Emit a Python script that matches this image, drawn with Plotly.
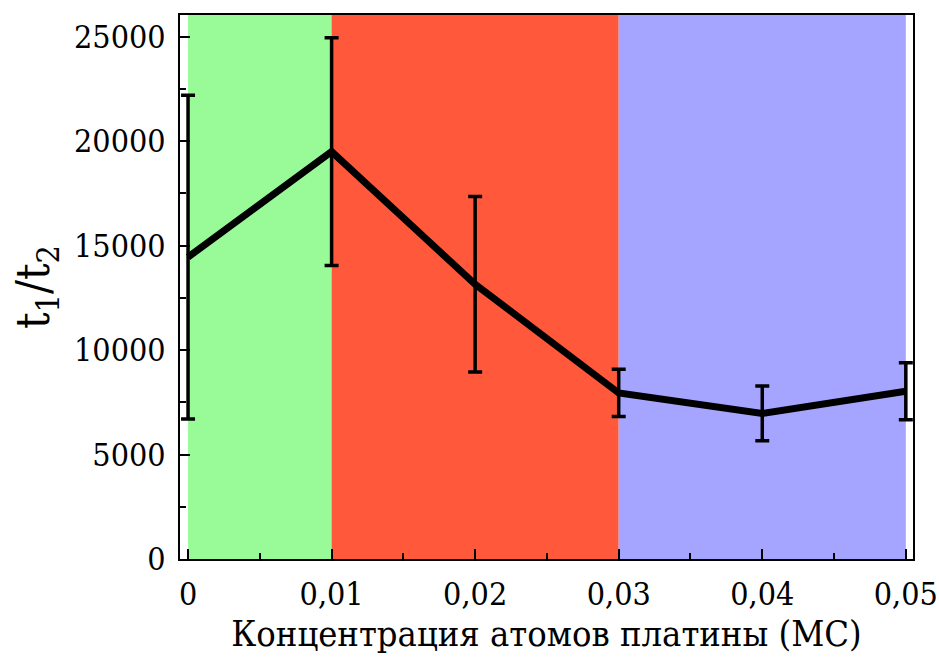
import plotly.graph_objects as go

# Data
conc = [0.0, 0.01, 0.02, 0.03, 0.04, 0.05]
ratio = [14450, 19500, 13150, 7950, 6970, 8030]
err = [7750, 5450, 4200, 1130, 1310, 1360]

x_ticks = [0, 0.01, 0.02, 0.03, 0.04, 0.05]
x_labels = ["0", "0,01", "0,02", "0,03", "0,04", "0,05"]
y_ticks = [0, 5000, 10000, 15000, 20000, 25000]
y_labels = ["0", "5000", "10000", "15000", "20000", "25000"]

regions = [(0.0, 0.01, "#98FB98"), (0.01, 0.03, "#FF583B"), (0.03, 0.05, "#A5A5FF")]

font_family = "DejaVu Serif Condensed, DejaVu Serif"

fig = go.Figure()
fig.add_trace(go.Scatter(
    x=conc, y=ratio, mode="lines",
    line=dict(color="black", width=7),
    error_y=dict(type="data", array=err, visible=True, color="black",
                 thickness=3.5, width=7),
    showlegend=False,
))

shapes = []
for x0, x1, c in regions:
    shapes.append(dict(type="rect", xref="x", yref="y domain", x0=x0, x1=x1,
                       y0=0, y1=1, fillcolor=c, line=dict(width=0), layer="below"))

fig.update_layout(
    width=939, height=657,
    margin=dict(l=180, r=26, t=15, b=98),
    paper_bgcolor="white", plot_bgcolor="white",
    shapes=shapes,
    font=dict(family=font_family, color="black", size=32),
    xaxis=dict(
        range=[-0.00056, 0.0505], tickvals=x_ticks, ticktext=x_labels,
        ticks="inside", ticklen=10, tickwidth=2, tickcolor="black",
        showline=True, linecolor="black", linewidth=2, mirror=True,
        showgrid=False, zeroline=False, automargin=False,
        tickfont=dict(size=32, family=font_family),
        minor=dict(dtick=0.005, tick0=0, ticks="inside", ticklen=6, tickwidth=2, tickcolor="black"),
        title=dict(text="Концентрация атомов платины (МС)", font=dict(size=36, family=font_family), standoff=3),
        ticklabelstandoff=6,
    ),
    yaxis=dict(
        range=[0, 26040], tickvals=y_ticks, ticktext=y_labels,
        ticks="inside", ticklen=10, tickwidth=2, tickcolor="black",
        showline=True, linecolor="black", linewidth=2, mirror=True,
        showgrid=False, zeroline=False, automargin=False,
        tickfont=dict(size=32, family=font_family),
        minor=dict(dtick=2500, tick0=0, ticks="inside", ticklen=6, tickwidth=2, tickcolor="black"),
        title=dict(text="t<sub>1</sub>/t<sub>2</sub>", font=dict(size=46, family=font_family), standoff=10),
        ticklabelstandoff=6,
    ),
)

fig.write_html("out.html")
